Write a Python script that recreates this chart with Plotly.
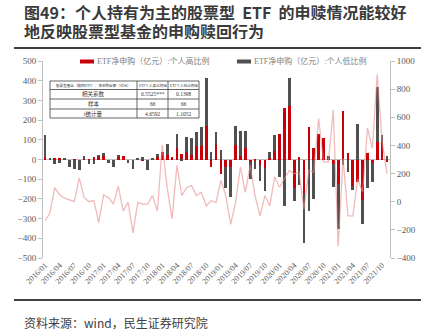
import plotly.graph_objects as go

# Monthly observations, 2016/01 - 2021/11
month_labels = [f"{y}/{m:02d}" for y in range(2016, 2022) for m in range(1, 13)][:71]

# ETF net subscription (100m CNY), high individual-holder share group
etf_high = [12, 2, 3, 8, 0, 0, -2, 0, 2, -2, 12, 17,
            17, 0, 0, 15, 17, 0, 0, 0, -8, 0, 2, 12,
            37, 25, 14, 59, 30, 37, 22, 68, 68, 172, -37, 73,
            -73, -37, -37, 76, 17, 59, -14, -10, -30, -42, 10, 42,
            130, 259, 270, -144, 14, -172, 164, 59, 132, 110, 0, -25,
            -123, 248, 32, -135, -115, -206, 35, -20, 90, 90, -12]

# ETF net subscription (100m CNY), low individual-holder share group
etf_low = [110, 6, -22, -17, 5, -38, -45, -54, 17, -20, -22, 3,
           17, -17, -37, 3, 0, -20, -47, 8, 14, -55, 8, 18,
           0, 56, 0, 68, -8, 79, 86, 71, 96, 242, 37, 68,
           47, -106, -154, 93, 130, 88, -85, -40, -80, -120, 29, 80,
           -90, -237, 144, -68, -130, -250, -262, -198, 0, 0, 20, -115,
           -232, -30, -62, -22, 181, -123, -147, -95, 279, 32, 20]

# Equity funds (ex-ETF) net subscription, right axis
equity_fund = [-137, -80, 100, 50, 25, 10, 0, 170, 30, 0, 10, -149,
               50, 30, -17, 110, -65, -5, -221, -5, -17, -17, 43, -65,
               403, 100, -122, 259, 43, 101, 115, 43, 67, -29, 7, -5,
               151, 43, -161, -5, 247, 67, 259, 40, -101, 43, -29, 175,
               103, 163, 223, 199, 211, -53, 223, 211, 590, 283, 283, 654,
               -316, 307, -101, -101, 163, 67, 523, 379, 906, 427, 199]

tick_labels = ["2016/01", "2016/04", "2016/07", "2016/10", "2017/01", "2017/04",
               "2017/07", "2017/10", "2018/01", "2018/04", "2018/07", "2018/10",
               "2019/01", "2019/04", "2019/07", "2019/10", "2020/01", "2020/04",
               "2020/07", "2020/10", "2021/01", "2021/04", "2021/07", "2021/10"]

series_names = ["ETF净申购（亿元）:个人高比例", "ETF净申购（亿元）:个人低比例"]
series_colors = ["#C8000A", "#505050"]

table_header = ["股票型基金（剔除ETF）：净申购金额（亿元）", "ETF个人高比例组", "ETF个人低比例组"]
table_body = [["相关系数", "0.5525***", "0.1398"],
              ["样本", "66", "66"],
              ["t统计量", "4.6592", "1.1052"]]

W, H = 436, 331
L, R, T, B = 43, 46, 61, 73
pw, ph = W - L - R, H - T - B


def px(x):
    return (x - L) / pw


def py(y):
    return (H - B - y) / ph


x_idx = list(range(len(month_labels)))
tick_idx = [month_labels.index(t) for t in tick_labels]

serif = "Liberation Serif, DejaVu Serif, Noto Sans CJK SC, serif"
sans = "Noto Sans CJK SC, sans-serif"
grey = "#595959"

fig = go.Figure()
for vals, name, col in zip([etf_high, etf_low], series_names, series_colors):
    fig.add_trace(go.Bar(x=x_idx, y=vals, name=name, showlegend=False,
                         marker=dict(color=col, line=dict(width=0)), width=0.55))
fig.add_trace(go.Scatter(x=x_idx, y=equity_fund, yaxis="y2", mode="lines",
                         line=dict(color="rgba(232,140,140,0.6)", width=1.3),
                         showlegend=False, name="股票型基金净申购"))

fig.update_layout(
    width=W, height=H,
    margin=dict(l=L, r=R, t=T, b=B),
    paper_bgcolor="white", plot_bgcolor="white",
    barmode="relative", bargap=0,
    showlegend=False,
    xaxis=dict(range=[-0.41, 70.61], tickmode="array", tickvals=tick_idx,
               ticktext=tick_labels, tickangle=-45, showgrid=False,
               zeroline=False, showline=False, ticks="",
               tickfont=dict(family=serif, size=8, color=grey)),
    yaxis=dict(range=[-500, 500], dtick=100, showgrid=False,
               zeroline=True, zerolinecolor="#BFBFBF", zerolinewidth=1,
               showline=True, linecolor="#BFBFBF", linewidth=1,
               ticks="outside", ticklen=4, tickcolor="#BFBFBF",
               tickfont=dict(family=serif, size=9, color=grey)),
    yaxis2=dict(range=[-400, 1000], dtick=200, overlaying="y", side="right",
                showgrid=False, zeroline=False,
                showline=True, linecolor="#BFBFBF", linewidth=1,
                ticks="outside", ticklen=4, tickcolor="#BFBFBF",
                tickfont=dict(family=serif, size=9, color=grey)),
)

# Legend drawn as swatch + label pairs
for name, col, x0 in zip(series_names, series_colors, [80, 237]):
    fig.add_shape(type="rect", xref="paper", yref="paper",
                  x0=px(x0), x1=px(x0 + 14), y0=py(63.5), y1=py(59.5),
                  fillcolor=col, line=dict(width=0))
    fig.add_annotation(x=px(x0 + 15), y=py(61.5), xref="paper", yref="paper",
                       xanchor="left", yanchor="middle", showarrow=False, text=name,
                       font=dict(family=serif, size=8, color="#7F7F7F"))

# Correlation table
tx0, tx1 = 50, 199
col_edges = [50, 137, 168, 199]
row_edges = [81, 89.5, 99, 109, 118]
fig.add_shape(type="rect", xref="paper", yref="paper", layer="above",
              x0=px(tx0), x1=px(tx1), y0=py(row_edges[-1]), y1=py(row_edges[0]),
              fillcolor="white", line=dict(color="#404040", width=0.8))
for ry in row_edges[1:-1]:
    fig.add_shape(type="line", xref="paper", yref="paper", layer="above",
                  x0=px(tx0), x1=px(tx1), y0=py(ry), y1=py(ry),
                  line=dict(color="#404040", width=0.8))
for cx in col_edges[1:-1]:
    fig.add_shape(type="line", xref="paper", yref="paper", layer="above",
                  x0=px(cx), x1=px(cx), y0=py(row_edges[-1]), y1=py(row_edges[0]),
                  line=dict(color="#404040", width=0.8))
for r, row in enumerate([table_header] + table_body):
    yc = (row_edges[r] + row_edges[r + 1]) / 2
    for c, txt in enumerate(row):
        xc = (col_edges[c] + col_edges[c + 1]) / 2
        fig.add_annotation(x=px(xc), y=py(yc), xref="paper", yref="paper",
                           xanchor="center", yanchor="middle", showarrow=False,
                           text=txt, height=8,
                           font=dict(family=serif, size=3.6 if r == 0 else 5.5,
                                     color="#333333"))

# Title lines, rules and source note
for txt, yy in [("<b>图49：个人持有为主的股票型  ETF  的申赎情况能较好</b>", 11.5),
                ("<b>地反映股票型基金的申购赎回行为</b>", 30.5)]:
    fig.add_annotation(x=px(22), y=py(yy), xref="paper", yref="paper", xanchor="left",
                       yanchor="middle", showarrow=False, text=txt, height=17,
                       font=dict(family=sans, size=16, color="#3A3A3A"))
fig.add_annotation(x=px(22), y=py(322), xref="paper", yref="paper", xanchor="left",
                   yanchor="middle", showarrow=False,
                   text="资料来源：wind，民生证券研究院",
                   font=dict(family=sans, size=12, color="#404040"))
for yy in (48, 300):
    fig.add_shape(type="line", xref="paper", yref="paper",
                  x0=px(14), x1=px(421), y0=py(yy), y1=py(yy),
                  line=dict(color="#404040", width=2))

fig.write_html("out.html")
